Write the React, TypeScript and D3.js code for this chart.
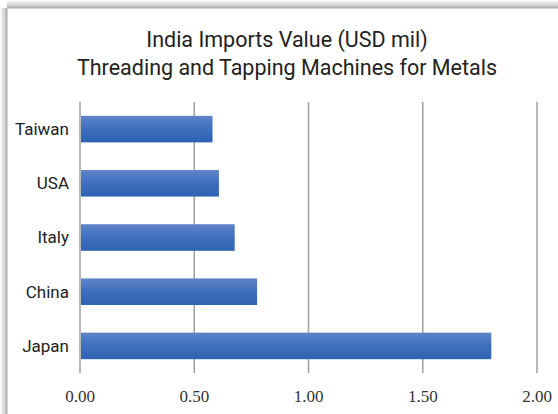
import React from "react";
import * as d3 from "d3";

const categories = ["Taiwan", "USA", "Italy", "China", "Japan"];
const values = [0.58, 0.608, 0.677, 0.775, 1.80];
const tickValues = [0, 0.5, 1.0, 1.5, 2.0];
const titleLines = ["India Imports Value (USD mil)", "Threading and Tapping Machines for Metals"];

const W = 558;
const H = 414;

export default function App() {
  const x = d3.scaleLinear().domain([0, 2]).range([80, 537]);
  const y = d3
    .scaleBand<string>()
    .domain(categories)
    .range([102, 373])
    .paddingInner(0.51)
    .paddingOuter(0.255);
  const fmt = d3.format(".2f");
  return (
    <svg
      width={W}
      height={H}
      style={{ position: "absolute", left: 0, top: 0, display: "block" }}
    >
      <defs>
        <linearGradient id="barGrad" x1="0" y1="0" x2="0" y2="1">
          <stop offset="0%" stopColor="#5f84c8" />
          <stop offset="50%" stopColor="#3d6fbd" />
          <stop offset="100%" stopColor="#2d63b2" />
        </linearGradient>
        <linearGradient id="shadeL" x1="0" y1="0" x2="1" y2="0">
          <stop offset="0%" stopColor="#ffffff" />
          <stop offset="100%" stopColor="#b8b8b8" />
        </linearGradient>
        <linearGradient id="shadeT" x1="0" y1="0" x2="0" y2="1">
          <stop offset="0%" stopColor="#ffffff" />
          <stop offset="100%" stopColor="#b8b8b8" />
        </linearGradient>
      </defs>
      <rect x={0} y={0} width={W} height={H} fill="#ffffff" />
      <rect x={0} y={8} width={7} height={H - 8} fill="url(#shadeL)" />
      <rect x={7} y={0} width={W - 7} height={8} fill="url(#shadeT)" />
      <rect x={7} y={8} width={W} height={H} fill="#ffffff" stroke="#a8a8a8" strokeWidth={1} />
      {titleLines.map((t, i) => (
        <text
          key={t}
          x={287}
          y={47 + i * 28}
          textAnchor="middle"
          fontFamily="Roboto, sans-serif"
          fontSize={21.5}
          fill="#222"
        >
          {t}
        </text>
      ))}
      {tickValues.map((v) => (
        <line
          key={v}
          x1={x(v)}
          x2={x(v)}
          y1={102}
          y2={373}
          stroke="#a0a0a0"
          strokeWidth={1.5}
        />
      ))}
      {categories.map((c, i) => (
        <rect
          key={c}
          x={x(0) + 1}
          y={y(c)}
          width={x(values[i]) - x(0) - 1}
          height={y.bandwidth()}
          fill="url(#barGrad)"
        />
      ))}
      {categories.map((c) => (
        <text
          key={c}
          x={69}
          y={(y(c) as number) + y.bandwidth() / 2}
          dy="0.35em"
          textAnchor="end"
          fontFamily="Roboto, sans-serif"
          fontSize={17}
          fill="#222"
        >
          {c}
        </text>
      ))}
      {tickValues.map((v) => (
        <text
          key={v}
          x={x(v)}
          y={402}
          textAnchor="middle"
          fontFamily="'Liberation Serif', serif"
          fontSize={17}
          fill="#333"
        >
          {fmt(v)}
        </text>
      ))}
    </svg>
  );
}
